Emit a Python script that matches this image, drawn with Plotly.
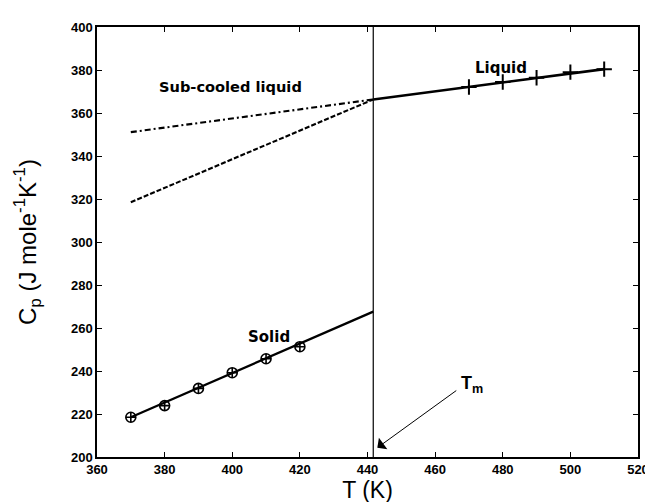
import plotly.graph_objects as go

# ---- data ----
solid_T = [370, 380, 390, 400, 410, 420]
solid_Cp = [218.5, 223.9, 231.9, 239.2, 245.7, 251.3]

solid_fit_T = [370, 441.7]
solid_fit_Cp = [218.5, 267.6]

liquid_T = [470, 480, 490, 500, 510]
liquid_Cp = [372.1, 374.4, 376.4, 379.0, 380.4]

liquid_fit_T = [441.7, 510]
liquid_fit_Cp = [366.3, 380.4]

subcooled_dashdot_T = [370, 441.7]
subcooled_dashdot_Cp = [351.1, 366.3]

subcooled_dash_T = [370, 441.7]
subcooled_dash_Cp = [318.5, 366.3]

Tm = 441.7
y_range = [200, 400]
x_range = [360, 520]
x_ticks = [360, 380, 400, 420, 440, 460, 480, 500, 520]
y_ticks = [200, 220, 240, 260, 280, 300, 320, 340, 360, 380, 400]
x_ticklabels = ["360", "380", "400", "420", "440", "460", "480", "500", "520"]
y_ticklabels = ["200", "220", "240", "260", "280", "300", "320", "340", "360", "380", "400"]

fig = go.Figure()

# melting point vertical line
fig.add_trace(go.Scatter(x=[Tm, Tm], y=y_range, mode="lines",
                         line=dict(color="black", width=1.2), showlegend=False))

# solid fit and points
fig.add_trace(go.Scatter(x=solid_fit_T, y=solid_fit_Cp, mode="lines",
                         line=dict(color="black", width=2.3), showlegend=False))
fig.add_trace(go.Scatter(x=solid_T, y=solid_Cp, mode="markers",
                         marker=dict(symbol="circle-cross-open", size=10, color="black",
                                     line=dict(width=1.6, color="black")),
                         showlegend=False))

# liquid fit and points
fig.add_trace(go.Scatter(x=liquid_fit_T, y=liquid_fit_Cp, mode="lines",
                         line=dict(color="black", width=2.6), showlegend=False))
fig.add_trace(go.Scatter(x=liquid_T, y=liquid_Cp, mode="markers",
                         marker=dict(symbol="cross-thin-open", size=11, color="black",
                                     line=dict(width=2, color="black")),
                         showlegend=False))

# sub-cooled liquid extrapolations
fig.add_trace(go.Scatter(x=subcooled_dashdot_T, y=subcooled_dashdot_Cp, mode="lines",
                         line=dict(color="black", width=2.1, dash="6px,3px,2px,3px"),
                         showlegend=False))
fig.add_trace(go.Scatter(x=subcooled_dash_T, y=subcooled_dash_Cp, mode="lines",
                         line=dict(color="black", width=2.1, dash="5px,2px"), showlegend=False))

lab_font = dict(family="DejaVu Sans", size=15, color="black")
fig.add_annotation(x=399.5, y=372.4, text="<b>Sub-cooled liquid</b>", showarrow=False,
                   font=dict(family="DejaVu Sans", size=14.6, color="black"))
fig.add_annotation(x=479.5, y=380.9, text="<b>Liquid</b>", showarrow=False, font=lab_font)
fig.add_annotation(x=410.8, y=255.6, text="<b>Solid</b>", showarrow=False, font=lab_font)

# T_m arrow
fig.add_annotation(x=442.9, y=204.3, ax=466.7, ay=231.4, axref="x", ayref="y",
                   text="", showarrow=True, arrowhead=1, arrowsize=2.4, arrowwidth=1,
                   arrowcolor="black")
fig.add_annotation(x=471, y=233.5, text="<b>T<sub>m</sub></b>", showarrow=False,
                   font=dict(family="Liberation Sans", size=18, color="black"))

axis_common = dict(showline=True, linecolor="black", linewidth=1.5, mirror="ticks",
                   ticks="inside", ticklen=5, tickwidth=1.2, tickcolor="black",
                   showgrid=False, zeroline=False,
                   tickfont=dict(family="Liberation Sans", size=13, color="black"))

fig.update_xaxes(range=x_range, tickvals=x_ticks,
                 ticktext=["<b>%s</b>" % t for t in x_ticklabels], **axis_common,
                 title=dict(text="T (K)", standoff=5,
                            font=dict(family="Liberation Sans", size=23, color="black")))
fig.update_yaxes(range=y_range, tickvals=y_ticks,
                 ticktext=["<b>%s</b>" % t for t in y_ticklabels], **axis_common,
                 title=dict(text="C<sub>p</sub> (J mole<sup>-1</sup>K<sup>-1</sup>)", standoff=28,
                            font=dict(family="Liberation Sans", size=24, color="black")))

fig.update_layout(width=653, height=502, plot_bgcolor="white", paper_bgcolor="white",
                  margin=dict(l=89, r=15, t=16, b=51), showlegend=False)

fig.write_html("out.html")
